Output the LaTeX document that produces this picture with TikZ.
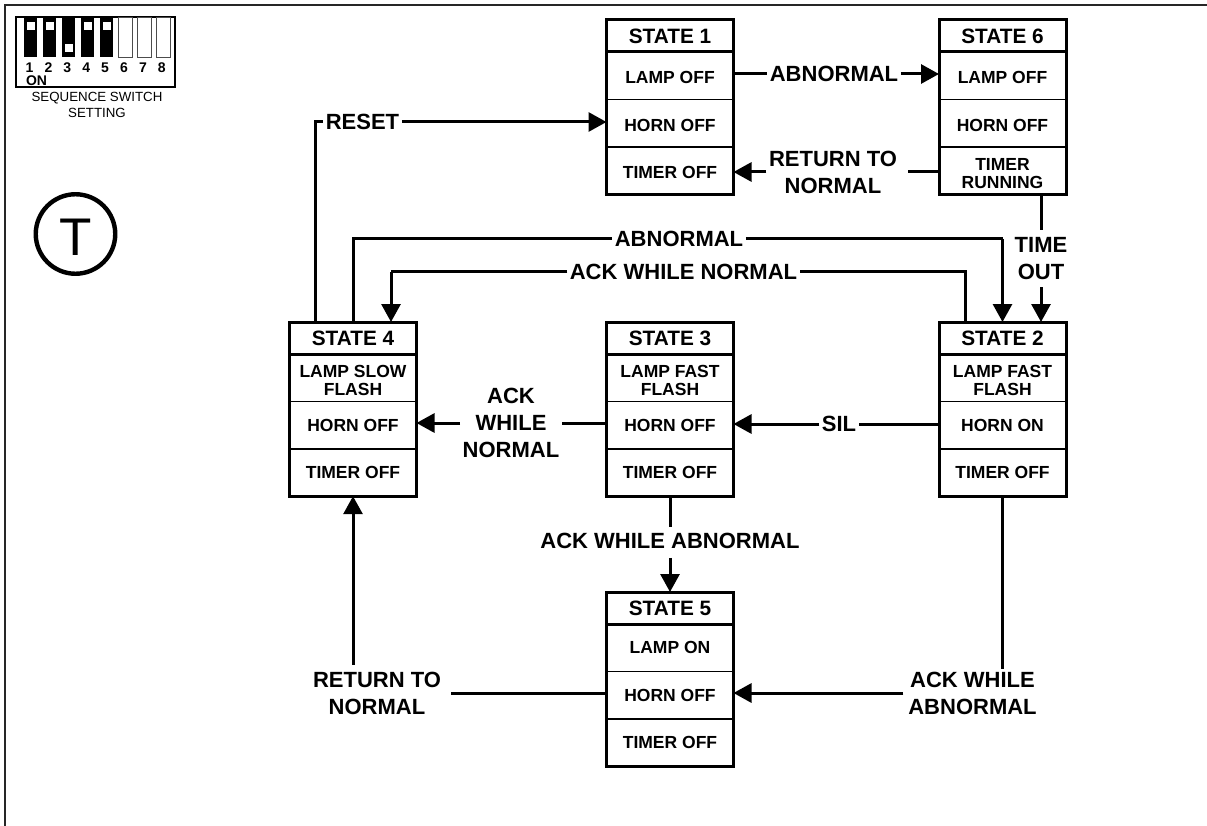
\documentclass[tikz,border=0pt]{standalone}
\usepackage{fontspec}
\setmainfont{Liberation Sans}
\usetikzlibrary{arrows.meta}
\tikzset{
    conn/.style={line width=3pt},
    arrowed/.style={conn, -{Triangle[length=18pt,width=19pt]}},
    heavy/.style={line width=3pt},
    cell/.style={draw, line width=1.6pt, anchor=north, minimum width=127pt, minimum height=47.4pt, inner sep=0pt, outer sep=0pt, align=center, font=\bfseries\fontsize{17.5}{18}\selectfont},
    titlecell/.style={cell, minimum height=32pt, font=\bfseries\fontsize{20.8}{22}\selectfont},
    lowtext/.style={text height=16.2pt},
    lowpair/.style={text height=36pt},
    lbl/.style={inner xsep=2.4pt, inner ysep=3pt, align=center, font=\bfseries\fontsize{22}{27}\selectfont},
}
\begin{document}
\begin{tikzpicture}[x=1pt, y=-1pt]
    \useasboundingbox (0,0) rectangle (1207,826);
    \def\xl{353}
    \def\xm{670}
    \def\xr{1002.5}
    \def\dtit{32}
    \def\dlamp{79.4}
    \def\dhorn{126.8}

% frame
    \draw[line width=1.6pt, black!85] (5,826) -- (5,5) -- (1207,5);

% sequence switch
    \draw[line width=1.2pt] (16,17) rectangle (175,87);
    \foreach \i/\ys in {1/21.7, 2/21.7, 3/44, 4/21.7, 5/21.7} {
        \fill (23.5 + 19*\i - 19, 17) rectangle (37.2 + 19*\i - 19, 57);
        \fill[white] (26.8 + 19*\i - 19, \ys) rectangle (35 + 19*\i - 19, \ys + 8.5);
    }
    \foreach \i in {6,7,8} {
        \draw[line width=0.8pt, black!70] (23.5 + 19*\i - 19, 17) rectangle (37.2 + 19*\i - 19, 57);
    }
    \foreach \i in {1,...,8} {
        \node[font=\bfseries\fontsize{14}{14}\selectfont] (dig\i) at (29.5 + 18.9*\i - 18.9, 68) {\i};
    }
    \node[font=\bfseries\fontsize{14}{14}\selectfont] (onlbl) at (36.5, 81) {ON};
    \node[align=center, font=\fontsize{13.3}{16}\selectfont] (seqlbl) at (97, 105) {SEQUENCE SWITCH\\SETTING};

% T
    \node[draw, circle, line width=4.4pt, minimum size=79.5pt, inner sep=0pt, text height=44pt, text depth=0pt, font=\fontsize{53}{53}\selectfont] (tsym) at (75.5, 234) {T};

% STATE 1
    \def\xc{\xm}
    \def\yt{20}
    \node[titlecell] (s1title) at (\xc, \yt) {STATE 1};
    \node[cell, lowtext] (s1lamp) at (\xc, \yt + \dtit) {LAMP OFF};
    \node[cell, lowtext] (s1horn) at (\xc, \yt + \dlamp) {HORN OFF};
    \node[cell, lowtext] (s1timer) at (\xc, \yt + \dhorn) {TIMER OFF};

% STATE 6
    \def\xc{\xr}
    \node[titlecell] (s6title) at (\xc, \yt) {STATE 6};
    \node[cell, lowtext] (s6lamp) at (\xc, \yt + \dtit) {LAMP OFF};
    \node[cell, lowtext] (s6horn) at (\xc, \yt + \dlamp) {HORN OFF};
    \node[cell, lowpair] (s6timer) at (\xc, \yt + \dhorn) {TIMER\\RUNNING};

% rebase yt (top)
    \def\yt{322}

% STATE 2
    \node[titlecell] (s2title) at (\xc, \yt) {STATE 2};
    \node[cell, lowpair] (s2lamp) at (\xc, \yt + \dtit) {LAMP FAST\\FLASH};
    \node[cell] (s2horn) at (\xc, \yt + \dlamp) {HORN ON};
    \node[cell] (s2timer) at (\xc, \yt + \dhorn) {TIMER OFF};

% STATE 3
    \def\xc{\xm}
    \node[titlecell] (s3title) at (\xc, \yt) {STATE 3};
    \node[cell, lowpair] (s3lamp) at (\xc, \yt + \dtit) {LAMP FAST\\FLASH};
    \node[cell] (s3horn) at (\xc, \yt + \dlamp) {HORN OFF};
    \node[cell] (s3timer) at (\xc, \yt + \dhorn) {TIMER OFF};

% STATE 4
    \def\xc{\xl}
    \node[titlecell] (s4title) at (\xc, \yt) {STATE 4};
    \node[cell, lowpair] (s4lamp) at (\xc, \yt + \dtit) {LAMP SLOW\\FLASH};
    \node[cell] (s4horn) at (\xc, \yt + \dlamp) {HORN OFF};
    \node[cell] (s4timer) at (\xc, \yt + \dhorn) {TIMER OFF};

% STATE 5
    \def\xc{\xm}
    \def\yt{592}
    \node[titlecell] (s5title) at (\xc, \yt) {STATE 5};
    \node[cell] (s5lamp) at (\xc, \yt + \dtit) {LAMP ON};
    \node[cell] (s5horn) at (\xc, \yt + \dlamp) {HORN OFF};
    \node[cell] (s5timer) at (\xc, \yt + \dhorn) {TIMER OFF};

% heavy outlines
    \foreach \s in {s1,s2,s3,s4,s5,s6} {
        \draw[heavy] (\s title.north west) rectangle (\s timer.south east);
        \draw[heavy] (\s title.south west) -- (\s title.south east);
    }

% labels
    \node[lbl] (abna) at (834, 74) {ABNORMAL};
    \node[lbl] (reta) at (833, 172) {RETURN TO\\NORMAL};
    \node[lbl] (reset) at (362.5, 122) {RESET};
    \node[lbl] (abnb) at (679, 239) {ABNORMAL};
    \node[lbl] (acka) at (683.5, 272) {ACK WHILE NORMAL};
    \node[lbl] (tout) at (1041, 258.5) {TIME\\OUT};
    \node[lbl] (sil) at (839, 424) {SIL};
    \node[lbl] (ackb) at (511, 423) {ACK\\WHILE\\NORMAL};
    \node[lbl] (ackc) at (670, 541) {ACK WHILE ABNORMAL};
    \node[lbl] (retb) at (377, 693) {RETURN TO\\NORMAL};
    \node[lbl] (ackd) at (972.5, 693) {ACK WHILE\\ABNORMAL};

% bends
    \coordinate (resetbend) at (315, 122);
    \coordinate (abnleft) at (\xl, 239);
    \coordinate (abnright) at (\xr, 239);
    \coordinate (ackleft) at (391, 272);
    \coordinate (ackright) at (965, 272);

% state 1 and 6
    \draw[conn] (s1lamp.east |- abna) -- (abna);
    \draw[arrowed] (abna) -- (s6lamp.west |- abna);
    \draw[conn] (s6timer.west |- reta) -- ([xshift=8.5pt]reta.east);
    \draw[arrowed] (reta) -- (s1timer.east |- reta);
    \draw[conn] (s6timer.south -| tout) -- ([yshift=4pt]tout.north);
    \draw[arrowed] ([yshift=-4.5pt]tout.south) -- (s2title.north -| tout);

% across the top
    \draw[conn] (s4title.north -| resetbend) -- (resetbend) -- (reset);
    \draw[arrowed] (reset) -- (s1horn.west |- reset);
    \draw[conn] (s4title.north -| abnleft) -- (abnleft) -- (abnb);
    \draw[conn] (abnb) -- (abnright);
    \draw[arrowed] (abnright) -- (s2title.north -| abnright);
    \draw[conn] (s2title.north -| ackright) -- (ackright) -- (acka);
    \draw[conn] (acka) -- (ackleft);
    \draw[arrowed] (ackleft) -- (s4title.north -| ackleft);

% middle row
    \draw[conn] (s2horn.west |- sil) -- (sil);
    \draw[arrowed] (sil) -- (s3horn.east |- sil);
    \draw[conn] (s3horn.west |- ackb) -- (ackb);
    \draw[arrowed] (ackb) -- (s4horn.east |- ackb);

% down to state 5
    \draw[conn] (s3timer.south) -- ([yshift=3.5pt]ackc.north -| s3timer.south);
    \draw[arrowed] ([yshift=-6pt]ackc.south -| s5title.north) -- (s5title.north);
    \draw[conn] (s2timer.south) -- (s2timer.south |- ackd.north);
    \draw[arrowed] ([xshift=-2.5pt]ackd.west) -- (s5horn.east |- ackd);
    \draw[conn] (s5horn.west |- retb) -- ([xshift=7.5pt]retb.east);
    \draw[arrowed] ([yshift=4pt]retb.north -| s4timer.south) -- (s4timer.south);
\end{tikzpicture}
\end{document}
